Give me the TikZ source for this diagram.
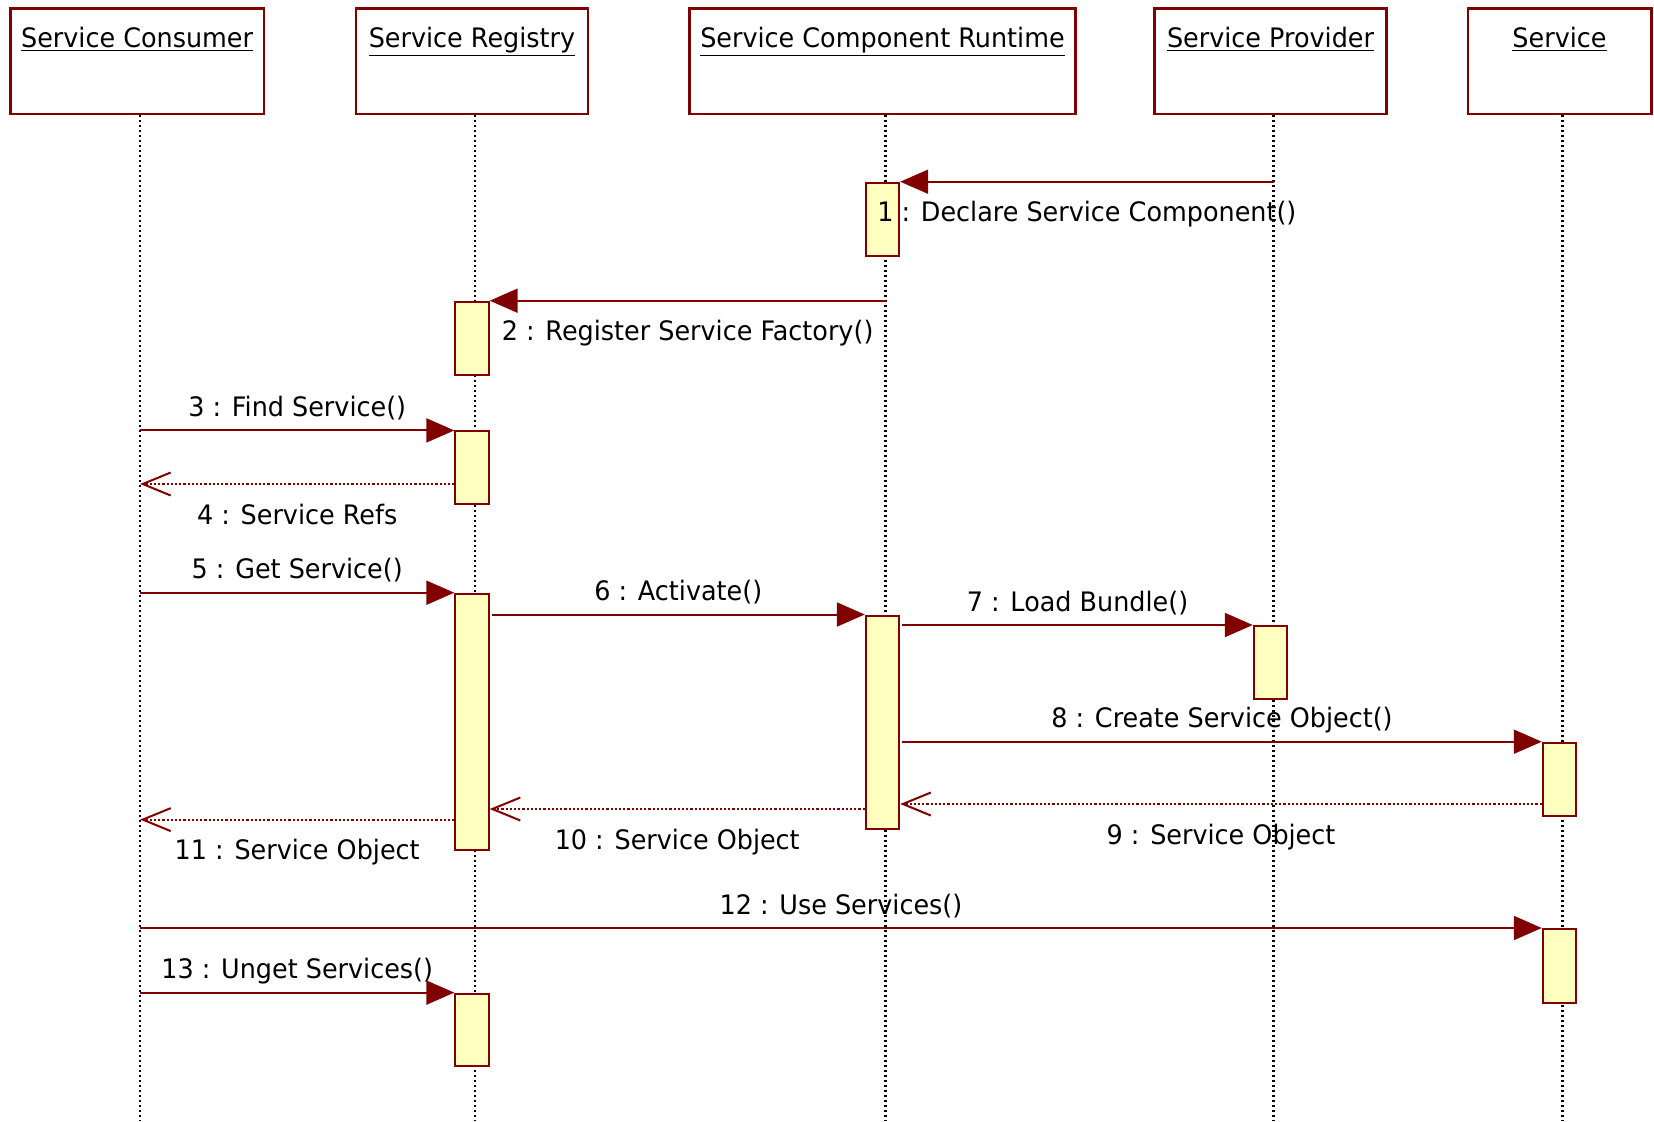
\documentclass[tikz,border=0pt]{standalone}
\usepackage{fontspec}
\setmainfont{DejaVu Sans}[FakeStretch=0.95]
\usetikzlibrary{arrows.meta}
\definecolor{umlred}{HTML}{800000}
\definecolor{actfill}{HTML}{FFFFC0}
\newcommand\diafont{\fontsize{13.4}{16}\selectfont}
\begin{document}
\begin{tikzpicture}[
  x=0.5pt, y=-0.5pt,
  every node/.style={font=\diafont},
  headbox/.style={rectangle, draw=umlred, line width=1.2pt, minimum height=52.8pt, inner sep=0pt},
  headtxt/.style={anchor=base, yshift=-20pt, inner sep=0pt},
  actbox/.style={rectangle, draw=umlred, fill=actfill, line width=1pt, minimum width=16.7pt, inner sep=0pt, anchor=north},
  lifeline/.style={line width=1.1pt, dash pattern=on 1.1pt off 1.4pt},
  msg/.style={-{Triangle[length=14pt, width=12pt]}, umlred, line width=1pt},
  ret/.style={-{Straight Barb[length=14pt, width=11.5pt, line width=1pt]}, umlred, line width=1.1pt, dash pattern=on 1.1pt off 1pt},
  msgtop/.style={midway, anchor=base, yshift=7pt, text=black},
  msgbot/.style={midway, anchor=base, yshift=-20pt, text=black}
]
\useasboundingbox (0,0) rectangle (1654,1121);

% Participants
\node[headbox, minimum width=126.6pt] (cons) at (137.1,61.2) {};
\node[headbox, minimum width=116pt] (reg) at (472,61.2) {};
\node[headbox, minimum width=193pt] (scr) at (882.5,61.2) {};
\node[headbox, minimum width=116pt] (prov) at (1270.5,61.2) {};
\node[headbox, minimum width=91.8pt] (serv) at (1559.5,61.2) {};

\node[headtxt] (cons-t) at (cons.north) {\underline{Service Consumer}};
\node[headtxt] (reg-t) at (reg.north) {\underline{Service Registry}};
\node[headtxt] (scr-t) at (scr.north) {\underline{Service Component Runtime}};
\node[headtxt] (prov-t) at (prov.north) {\underline{Service Provider}};
\node[headtxt] (serv-t) at (serv.north) {\underline{Service}};

% Lifelines
\foreach \p in {cons,reg,scr,prov,serv}{
  \coordinate (\p-l) at ([xshift=1.5pt]\p.south);
  \draw[lifeline] (\p-l) -- (\p-l |- 0,1121);
}

% Activations
\node[actbox, minimum height=36.8pt] (a1) at (882.5,181.7) {};
\node[actbox, minimum height=36.6pt] (a2) at (472,300.7) {};
\node[actbox, minimum height=36.4pt] (a3) at (472,430.4) {};
\node[actbox, minimum height=128.2pt] (a5) at (472,592.7) {};
\node[actbox, minimum height=106.9pt] (a6) at (882.5,614.5) {};
\node[actbox, minimum height=36.5pt] (a7) at (1270.5,625) {};
\node[actbox, minimum height=36.7pt] (a8) at (1559.5,741.7) {};
\node[actbox, minimum height=36.8pt] (a12) at (1559.5,928) {};
\node[actbox, minimum height=36.4pt] (a13) at (472,992.6) {};

% Messages
\draw[msg] (prov-l |- a1.north) -- (a1.north east) node[msgbot] (l1) {1 : Declare Service Component()};
\draw[msg] (scr-l |- a2.north) -- (a2.north east) node[msgbot] (l2) {2 : Register Service Factory()};
\draw[msg] (cons-l |- a3.north) -- (a3.north west) node[msgtop] (l3) {3 : Find Service()};
\draw[ret] ([yshift=-26.8pt]a3.north west) coordinate (r4) -- (cons-l |- r4) node[msgbot] (l4) {4 : Service Refs};
\draw[msg] (cons-l |- a5.north) -- (a5.north west) node[msgtop] (l5) {5 : Get Service()};
\draw[msg] ([xshift=1pt]a5.east |- a6.north) -- (a6.north west) node[msgtop] (l6) {6 : Activate()};
\draw[msg] ([xshift=1pt]a6.east |- a7.north) -- (a7.north west) node[msgtop] (l7) {7 : Load Bundle()};
\draw[msg] ([xshift=1pt]a6.east |- a8.north) -- (a8.north west) node[msgtop] (l8) {8 : Create Service Object()};
\draw[ret] ([yshift=-31.15pt]a8.north west) coordinate (r9) -- (a6.east |- r9) node[msgbot] (l9) {9 : Service Object};
\draw[ret] ([yshift=-97.25pt]a6.north west) coordinate (r10) -- (a5.east |- r10) node[msgbot] (l10) {10 : Service Object};
\draw[ret] ([yshift=-113.45pt]a5.north west) coordinate (r11) -- (cons-l |- r11) node[msgbot] (l11) {11 : Service Object};
\draw[msg] (cons-l |- a12.north) -- (a12.north west) node[msgtop] (l12) {12 : Use Services()};
\draw[msg] (cons-l |- a13.north) -- (a13.north west) node[msgtop] (l13) {13 : Unget Services()};

\end{tikzpicture}
\end{document}
